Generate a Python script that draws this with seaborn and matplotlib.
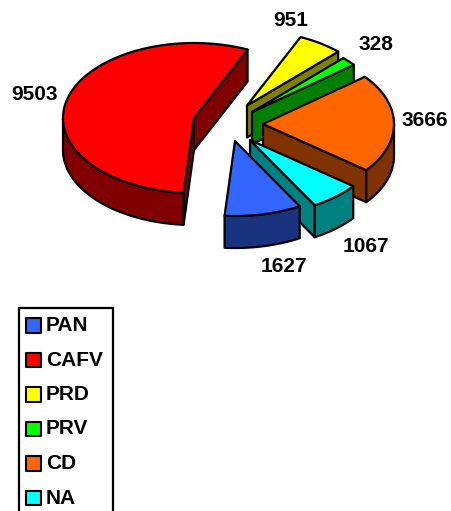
import numpy as np
import matplotlib
matplotlib.use("Agg")
import matplotlib.pyplot as plt
from matplotlib.patches import Polygon, Rectangle
import pandas as pd
import seaborn as sns

parties = ["PAN", "CAFV", "PRD", "PRV", "CD", "NA"]
votes = [1627, 9503, 951, 328, 3666, 1067]
top_colors = ["#3366FF", "#FF0000", "#FFFF00", "#00FF00", "#FF6600", "#00FFFF"]
side_colors = ["#1A337F", "#800000", "#808000", "#008000", "#803300", "#008080"]

# pie geometry in pixels
RX, RY, DEPTH = 131, 75, 32
START = -60.4
apex = {"PAN": (235, 141), "CAFV": (194, 118), "PRD": (247, 105.5),
        "PRV": (252, 112), "CD": (263, 124), "NA": (250, 140)}
label_pos = {"PAN": (284, 267), "CAFV": (34, 94), "PRD": (291, 20),
             "PRV": (376, 44), "CD": (425, 121), "NA": (366, 247)}
draw_order = ["CAFV", "PRD", "PRV", "CD", "NA", "PAN"]

sns.set_theme(style="white")
plt.rcParams['font.family'] = ['Liberation Sans', 'DejaVu Sans']

fig = plt.figure(figsize=(4.51, 5.11), dpi=100)
ax = fig.add_axes([0, 0, 1, 1])
ax.set_xlim(0, 451)
ax.set_ylim(511, 0)
ax.axis("off")

# slices go clockwise from START
sweep = 360 * np.array(votes) / sum(votes)
ends = START - np.cumsum(sweep)
starts = ends + sweep
LW = 1.6


def rim(cx, cy, a, b, drop=0):
    t = np.radians(np.linspace(a, b, 80))
    return np.column_stack([cx + RX * np.cos(t), cy - RY * np.sin(t) + drop])


def add_poly(pts, color):
    ax.add_patch(Polygon(pts, closed=True, facecolor=color, edgecolor="black",
                         linewidth=LW, joinstyle="round"))


def draw_slice(i):
    cx, cy = apex[parties[i]]
    a, b = ends[i], starts[i]

    # radial walls, only the ones facing the viewer
    for ang, normal in [(b, b + 90), (a, a - 90)]:
        if np.sin(np.radians(normal)) < 0:
            p = rim(cx, cy, ang, ang)[0]
            wall = [(cx, cy), p, (p[0], p[1] + DEPTH), (cx, cy + DEPTH)]
            add_poly(wall, side_colors[i])

    # outer wall is the part of the rim on the lower half
    k0 = np.ceil(a / 360)
    for shift in [k0 * 360 - 360, k0 * 360 - 720, k0 * 360]:
        lo = max(a, shift - 180)
        hi = min(b, shift)
        if hi > lo:
            front = rim(cx, cy, lo, hi)
            back = rim(cx, cy, hi, lo, DEPTH)
            add_poly(np.vstack([front, back]), side_colors[i])

    top = np.vstack([[(cx, cy)], rim(cx, cy, a, b)])
    add_poly(top, top_colors[i])


for name in draw_order:
    draw_slice(parties.index(name))

for name, v in zip(parties, votes):
    x, y = label_pos[name]
    ax.text(x, y, str(v), fontsize=15, fontweight="bold", color="black",
            ha="center", va="center")

# legend box runs off the bottom of the image
ax.add_patch(Rectangle((18.5, 308.5), 94.5, 230, facecolor="white",
                       edgecolor="black", linewidth=LW))
legend_y = 325.5 + 34.5 * np.arange(len(parties))
df = pd.DataFrame({"x": 33.5, "y": legend_y, "party": parties})
sns.scatterplot(data=df, x="x", y="y", hue="party", palette=dict(zip(parties, top_colors)),
                marker="s", s=105, edgecolor="black", linewidth=1.5, legend=False, ax=ax, zorder=3)
for name, y in zip(parties, legend_y):
    ax.text(46, y, name, fontsize=15, fontweight="bold", color="black",
            ha="left", va="center")

ax.set_xlim(0, 451)
ax.set_ylim(511, 0)
ax.axis("off")
fig.savefig("out.png", dpi=100)
